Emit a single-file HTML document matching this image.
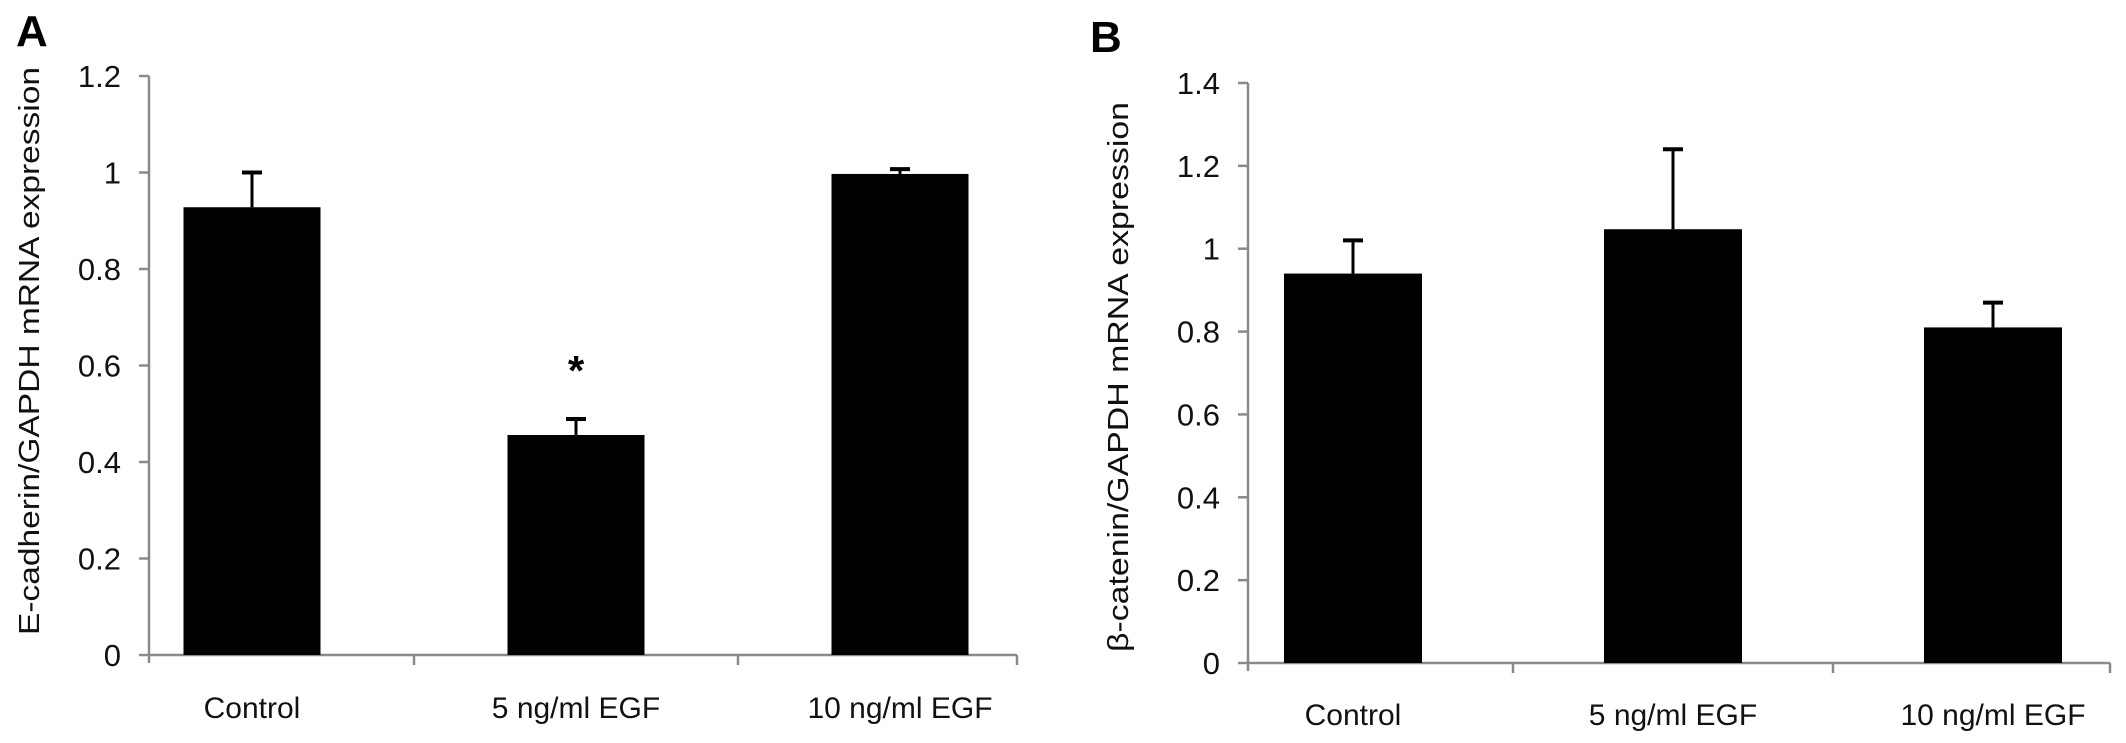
<!DOCTYPE html>
<html><head><meta charset="utf-8"><style>
html,body{margin:0;padding:0;background:#fff;}
svg{display:block;font-family:"Liberation Sans",sans-serif;}
</style></head><body>
<svg id="fig" width="2126" height="743" viewBox="0 0 2126 743" xmlns="http://www.w3.org/2000/svg">
<text x="16" y="46" font-size="44" font-weight="bold">A</text>
<text x="1090" y="52" font-size="44" font-weight="bold">B</text>
</svg>
<script>
const categories = ["Control", "5 ng/ml EGF", "10 ng/ml EGF"];
const valuesA = [0.928, 0.456, 0.997];
const errorsA = [0.072, 0.033, 0.010];
const ticksA = [0, 0.2, 0.4, 0.6, 0.8, 1, 1.2];
const tickLabelsA = ["0", "0.2", "0.4", "0.6", "0.8", "1", "1.2"];
const significantA = [false, true, false];
const valuesB = [0.940, 1.047, 0.810];
const errorsB = [0.080, 0.193, 0.060];
const ticksB = [0, 0.2, 0.4, 0.6, 0.8, 1, 1.2, 1.4];
const tickLabelsB = ["0", "0.2", "0.4", "0.6", "0.8", "1", "1.2", "1.4"];
const significantB = [false, false, false];

const NS = "http://www.w3.org/2000/svg";
const svg = document.getElementById("fig");
function mk(tag, attrs, parent) {
  const e = document.createElementNS(NS, tag);
  for (const k in attrs) e.setAttribute(k, attrs[k]);
  (parent || svg).appendChild(e);
  return e;
}
function panel(cfg, vals, errs, ticks, tickLabels, sig, id) {
  const g = mk("g", {});
  
  
  const yMax = ticks[ticks.length - 1];
  const y = v => cfg.y0 - (v / yMax) * (cfg.y0 - cfg.yTop);
  const xc = i => cfg.c0 + i * cfg.step;
  const gray = "#8a8a8a";
  const ya = mk("line", {x1: cfg.ax, x2: cfg.ax, y1: cfg.yTop, y2: cfg.y0 + 8, stroke: gray, "stroke-width": 2.5}, g);
  
  
  ticks.forEach((t, i) => {
    mk("line", {x1: cfg.ax - 10, x2: cfg.ax, y1: y(t), y2: y(t), stroke: gray, "stroke-width": 2.5}, g);
    const tl = mk("text", {x: cfg.ax - 28, y: y(t) + 11, "font-size": 31, "text-anchor": "end", fill: "#111"}, g);
    tl.textContent = tickLabels[i];
    
    
  });
  const xa = mk("line", {x1: cfg.ax, x2: cfg.axEnd, y1: cfg.y0, y2: cfg.y0, stroke: gray, "stroke-width": 2.5}, g);
  
  
  for (let i = 0; i < categories.length; i++) {
    const tx = i < categories.length - 1 ? xc(i) + cfg.step / 2 : cfg.axEnd;
    mk("line", {x1: tx, x2: tx, y1: cfg.y0, y2: cfg.y0 + 10, stroke: gray, "stroke-width": 2.5}, g);
  }
  vals.forEach((v, i) => {
    const cx = xc(i);
    const top = y(v + errs[i]);
    const eb = mk("g", {}, g);
    
    
    mk("line", {x1: cx, x2: cx, y1: y(v), y2: top, stroke: "#000", "stroke-width": 3}, eb);
    mk("line", {x1: cx - 10, x2: cx + 10, y1: top, y2: top, stroke: "#000", "stroke-width": 4}, eb);
    const b = mk("rect", {x: cx - cfg.bw / 2, y: y(v), width: cfg.bw, height: cfg.y0 - y(v), fill: "#000"}, g);
    
    
    const lbl = mk("text", {x: cx, y: cfg.labelY, "font-size": 30, "text-anchor": "middle", fill: "#111"}, g);
    lbl.textContent = categories[i];
    
    
    if (sig[i]) {
      const s = mk("text", {x: cx, y: top - 34, "font-size": 42, "font-weight": "bold", "text-anchor": "middle"}, g);
      s.textContent = "*";
      
      
    }
  });
  const t = mk("text", {transform: `translate(${cfg.ylx},${cfg.ylc}) rotate(-90)`, "font-size": 29, "text-anchor": "middle", fill: "#111", textLength: cfg.ylLen, lengthAdjust: "spacingAndGlyphs"}, g);
  t.textContent = cfg.ylabel;
  
  
}
panel({ax: 149, axEnd: 1017, y0: 655, yTop: 76, c0: 252, step: 324, bw: 137, labelY: 718,
  ylx: 39, ylc: 351, ylLen: 568, ylabel: "E-cadherin/GAPDH mRNA expression"},
  valuesA, errorsA, ticksA, tickLabelsA, significantA, "a");
panel({ax: 1248, axEnd: 2110, y0: 663, yTop: 83, c0: 1353, step: 320, bw: 138, labelY: 725,
  ylx: 1128, ylc: 377, ylLen: 550, ylabel: "β-catenin/GAPDH mRNA expression"},
  valuesB, errorsB, ticksB, tickLabelsB, significantB, "b");
</script>
</body></html>
